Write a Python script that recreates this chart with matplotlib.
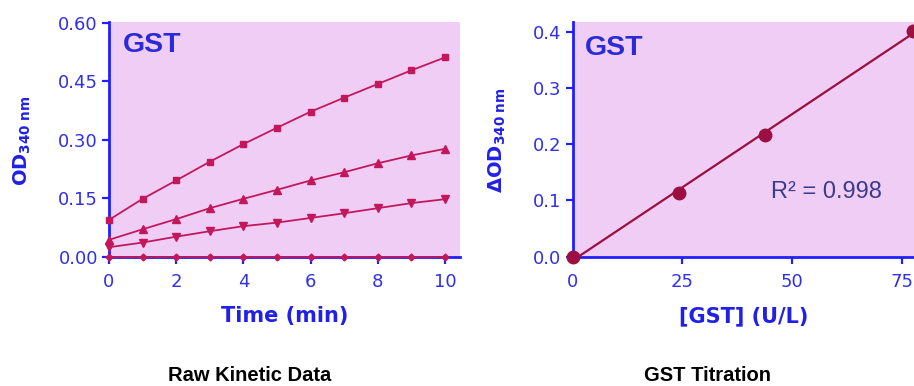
import numpy as np
import matplotlib
matplotlib.use("Agg")
import matplotlib.pyplot as plt

# ---- data ----
time_min = [0, 1, 2, 3, 4, 5, 6, 7, 8, 9, 10]
od_high = [0.095, 0.149, 0.196, 0.244, 0.289, 0.331, 0.372, 0.408, 0.443, 0.478, 0.511]
od_mid = [0.044, 0.071, 0.097, 0.125, 0.149, 0.172, 0.196, 0.217, 0.240, 0.260, 0.277]
od_low = [0.025, 0.037, 0.052, 0.066, 0.079, 0.088, 0.100, 0.112, 0.125, 0.138, 0.148]
od_blank = [0.0, 0.0, 0.0, 0.0, 0.0, 0.0, 0.0, 0.0, 0.0, 0.0, 0.0]

gst_conc = [0, 24.3, 43.9, 77.6]
delta_od = [0.0, 0.113, 0.217, 0.402]

left_yticks = [0.0, 0.15, 0.30, 0.45, 0.60]
left_yticklabels = ["0.00", "0.15", "0.30", "0.45", "0.60"]
left_xticks = [0, 2, 4, 6, 8, 10]
right_yticks = [0.0, 0.1, 0.2, 0.3, 0.4]
right_yticklabels = ["0.0", "0.1", "0.2", "0.3", "0.4"]
right_xticks = [0, 25, 50, 75]

# ---- style ----
BG = "#efcdf5"
AXC = "#1f1fff"
TICKC = "#3030e8"
LINE_L = "#c2185b"
LINE_R = "#9b1040"

fig = plt.figure(figsize=(9.14, 3.86), dpi=100)
W, H = 914.0, 386.0

def style_axes(ax):
    ax.set_facecolor(BG)
    for s in ("top", "right"):
        ax.spines[s].set_visible(False)
    for s in ("left", "bottom"):
        ax.spines[s].set_color(AXC)
        ax.spines[s].set_linewidth(2)
        ax.spines[s].set_zorder(3)
    ax.tick_params(axis="both", colors=AXC, length=5, width=1.6, direction="out",
                   labelcolor=TICKC, labelsize=13)
    ax.tick_params(axis="x", pad=6.5)
    ax.tick_params(axis="y", pad=3)

# Left axes
axL = fig.add_axes([109 / W, 1 - 257 / H, (460 - 109) / W, (257 - 21.7) / H])
style_axes(axL)
axL.set_xlim(0, 10.45)
axL.set_ylim(0, 0.6026)
axL.set_yticks(left_yticks)
axL.set_yticklabels(left_yticklabels)
axL.set_xticks(left_xticks)

axL.plot(time_min, od_high, color=LINE_L, lw=1.3, marker="s", ms=5, clip_on=False, zorder=4)
axL.plot(time_min, od_mid, color=LINE_L, lw=1.3, marker="^", ms=5.5, clip_on=False, zorder=4)
axL.plot(time_min, od_low, color=LINE_L, lw=1.3, marker="v", ms=5.5, clip_on=False, zorder=4)
axL.plot(time_min, od_blank, color=LINE_L, lw=1.3, marker="D", ms=3.5, clip_on=False, zorder=4)

axL.text(0.04, 0.871, "GST", transform=axL.transAxes, color="#2a2ad8",
         fontsize=20.5, fontweight="bold", family="Liberation Sans", va="baseline")
axL.set_xlabel("Time (min)", fontsize=15, fontweight="bold", color="#2020e8", labelpad=11)
fig.text(22 / W, 1 - 141 / H, r"OD$_{\mathbf{340\ nm}}$", rotation=90, fontsize=14,
         fontweight="bold", color="#2020e8", ha="center", va="center")

# Right axes
axR = fig.add_axes([572.7 / W, 1 - 256.7 / H, (914 - 572.7) / W, (256.7 - 21.7) / H])
style_axes(axR)
axR.set_xlim(0, 77.8)
axR.set_ylim(0, 0.418)
axR.set_yticks(right_yticks)
axR.set_yticklabels(right_yticklabels)
axR.set_xticks(right_xticks)

slope, intercept = np.polyfit(gst_conc, delta_od, 1)
xfit = np.array([0, 77.8])
axR.plot(xfit, slope * xfit + intercept, color=LINE_R, lw=1.6, zorder=4)
axR.plot(gst_conc, delta_od, "o", color=LINE_R, ms=9, clip_on=False, zorder=5)

axR.text(0.036, 0.858, "GST", transform=axR.transAxes, color="#2a2ad8",
         fontsize=20.5, fontweight="bold", family="Liberation Sans", va="baseline")
axR.text(45.2, 0.104, "R² = 0.998", color="#3c3c8c", fontsize=17,
         family="Liberation Sans", va="baseline")
axR.set_xlabel("[GST] (U/L)", fontsize=15, fontweight="bold", color="#2020e8", labelpad=11)
fig.text(497 / W, 1 - 140 / H, r"$\mathregular{\Delta}$OD$_{\mathbf{340\ nm}}$", rotation=90,
         fontsize=14, fontweight="bold", color="#2020e8", ha="center", va="center")

# Captions
fig.text(250 / W, 5 / H, "Raw Kinetic Data", fontsize=14.5, fontweight="bold",
         family="Liberation Sans", ha="center", va="baseline", color="black")
fig.text(708 / W, 5 / H, "GST Titration", fontsize=14.5, fontweight="bold",
         family="Liberation Sans", ha="center", va="baseline", color="black")

fig.savefig("out.png", dpi=100)
